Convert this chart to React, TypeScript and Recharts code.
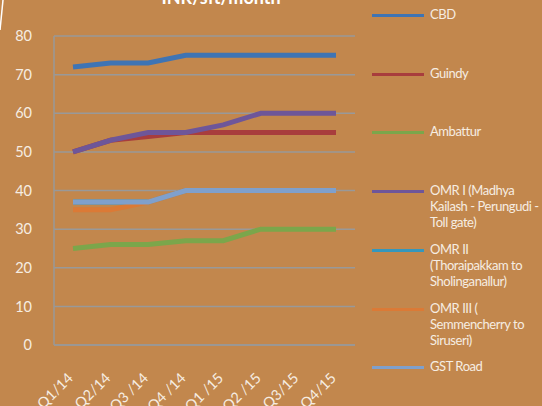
import React from "react";
import { LineChart, Line, XAxis, YAxis, CartesianGrid, Legend } from "recharts";

const quarters = ["Q1/14", "Q2/14", "Q3 /14", "Q4 /14", "Q1 /15", "Q2 /15", "Q3/15", "Q4/15"];
const cbd = [72, 73, 73, 75, 75, 75, 75, 75];
const guindy = [50, 53, 54, 55, 55, 55, 55, 55];
const ambattur = [25, 26, 26, 27, 27, 30, 30, 30];
const omr1 = [50, 53, 55, 55, 57, 60, 60, 60];
const omr2 = [37, 37, 37, 40, 40, 40, 40, 40];
const omr3 = [35, 35, 37, 40, 40, 40, 40, 40];
const gst = [37, 37, 37, 40, 40, 40, 40, 40];
const yTicks = [0, 10, 20, 30, 40, 50, 60, 70, 80];

const series = [
  { key: "cbd", name: "CBD", values: cbd, color: "#3E74B4" },
  { key: "guindy", name: "Guindy", values: guindy, color: "#A83D3D" },
  { key: "ambattur", name: "Ambattur", values: ambattur, color: "#7BA64B" },
  { key: "omr1", name: "OMR I (Madhya Kailash - Perungudi - Toll gate)", values: omr1, color: "#6E5699" },
  { key: "omr2", name: "OMR II (Thoraipakkam to Sholinganallur)", values: omr2, color: "#3597BC" },
  { key: "omr3", name: "OMR III ( Semmencherry to Siruseri)", values: omr3, color: "#DB7A36" },
  { key: "gst", name: "GST Road", values: gst, color: "#7FA0CC" },
];

const data = quarters.map((q, i) => {
  const row: Record<string, string | number> = { q };
  series.forEach((s) => (row[s.key] = s.values[i]));
  return row;
});

const FONT = "Lato, 'Open Sans', sans-serif";
const TXT = "#F6EDE2";

const XTick = (props: any) => {
  const { x, y, payload } = props;
  const tx = x + 1;
  const ty = y + 26;
  return (
    <text x={tx} y={ty} transform={`rotate(-45, ${tx}, ${ty})`} textAnchor="end" fill={TXT} fontSize={14.5} fontFamily={FONT}>
      {payload.value}
    </text>
  );
};

const LegendContent = () => (
  <div style={{ position: "relative", width: 182, height: 406, fontFamily: FONT }}>
    {series.map((s, i) => (
      <div key={s.key} style={{ position: "absolute", left: 0, top: 6 + i * 58.7, width: 182 }}>
        <div style={{ position: "absolute", left: 12, top: 8, width: 52, height: 3, background: s.color }} />
        <div style={{ position: "absolute", left: 70, top: 0, width: 113, fontSize: 13, letterSpacing: "-0.45px", lineHeight: "16px", color: TXT, textAlign: "left" }}>
          {s.name}
        </div>
      </div>
    ))}
  </div>
);

export default function App() {
  return (
    <div style={{ position: "fixed", left: 0, top: 0, width: 542, height: 406, background: "#C2874D", overflow: "hidden" }}>
      <div style={{ position: "absolute", left: 0, top: -14, width: 442, textAlign: "center", fontFamily: FONT, fontWeight: 700, fontSize: 18, color: "#FFFFFF", lineHeight: "22px" }}>
        INR/sft/month
      </div>
      <svg style={{ position: "absolute", left: 0, top: 0 }} width={10} height={40}>
        <line x1={3} y1={0} x2={0} y2={30} stroke="#FFFFFF" strokeWidth={1.5} />
      </svg>
      <LineChart width={542} height={406} data={data} margin={{ top: 36, right: 5, bottom: 0, left: 0 }}>
        <CartesianGrid vertical={false} stroke="#999999" strokeWidth={1.5} />
        <XAxis
          dataKey="q"
          padding={{ left: 19, right: 19 }}
          height={61}
          axisLine={{ stroke: "#999999", strokeWidth: 1.5 }}
          tickLine={false}
          tick={<XTick />}
          interval={0}
        />
        <YAxis
          domain={[0, 80]}
          ticks={yTicks}
          width={54}
          axisLine={{ stroke: "#999999", strokeWidth: 1.5 }}
          tickLine={false}
          tickSize={0}
          tickMargin={22}
          tick={{ fill: TXT, fontSize: 14.5, fontFamily: FONT }}
        />
        <Legend
          layout="vertical"
          align="right"
          verticalAlign="top"
          width={182}
          wrapperStyle={{ top: 0, right: 0, width: 182, height: 406 }}
          content={<LegendContent />}
        />
        {series.map((s) => (
          <Line
            key={s.key}
            type="linear"
            dataKey={s.key}
            name={s.name}
            stroke={s.color}
            strokeWidth={5}
            dot={false}
            activeDot={false}
            isAnimationActive={false}
          />
        ))}
      </LineChart>
    </div>
  );
}
